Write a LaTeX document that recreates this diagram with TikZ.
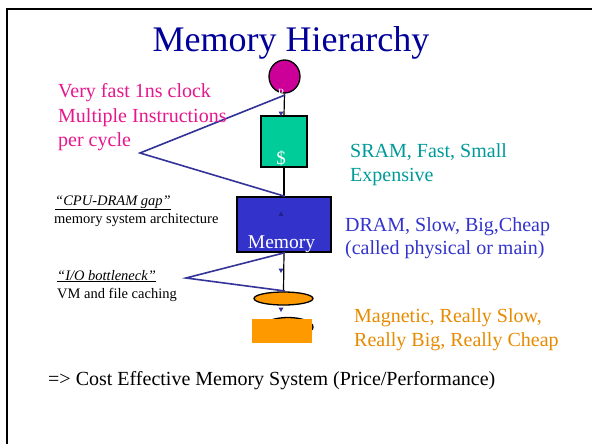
\documentclass[tikz,border=0pt]{standalone}
\usepackage{fontspec}
\setmainfont{Liberation Serif}
\usetikzlibrary{shapes.geometric}
\definecolor{titleblue}{HTML}{000099}
\definecolor{cpufill}{HTML}{CC0099}
\definecolor{sramfill}{HTML}{00CC99}
\definecolor{dramfill}{HTML}{3333CC}
\definecolor{diskfill}{HTML}{FF9900}
\definecolor{pinktxt}{HTML}{E6168C}
\definecolor{sramtxt}{HTML}{009999}
\definecolor{dramtxt}{HTML}{3333CC}
\definecolor{disktxt}{HTML}{E68A00}
\definecolor{linkblue}{HTML}{333399}
\definecolor{tipdark}{HTML}{222288}
\begin{document}
\begin{tikzpicture}[x=1pt,y=-1pt,
  lbl/.style={anchor=base west,inner sep=0pt},
  big/.style={font=\fontsize{20}{24}\selectfont},
  small/.style={font=\fontsize{14.5}{17}\selectfont},
  unit/.style={draw=black,line width=1.3pt,inner sep=0pt},
  wire/.style={draw=black,line width=1.2pt},
  callout/.style={draw=linkblue,line width=1.6pt,line join=miter},
  whitetxt/.style={text=white,inner sep=0pt}]
\useasboundingbox (0,0) rectangle (592,444);
% frame
\draw[line width=2pt] (7,444) -- (7,9) -- (592,9);
% title
\node[anchor=base,inner sep=0pt,font=\fontsize{36}{40}\selectfont,text=titleblue] (title) at (291,52) {Memory Hierarchy};
% hierarchy units
\node[unit,ellipse,fill=cpufill,minimum width=31pt,minimum height=33pt] (cpu) at (284.5,76.5) {};
\node[unit,rectangle,fill=sramfill,minimum width=46pt,minimum height=51pt] (sram) at (284,141.5) {};
\node[unit,rectangle,fill=dramfill,minimum width=94pt,minimum height=55pt] (dram) at (284,224.5) {};
\node[unit,ellipse,fill=diskfill,minimum width=59pt,minimum height=13pt] (disk) at (283.5,298.5) {};
\node[unit,ellipse,fill=diskfill,minimum width=50pt,minimum height=19pt] (disktwo) at (288,327) {};
\fill[diskfill] (252,319) rectangle (312,343);
% vertical wires
\draw[wire] (cpu.south) -- (sram.north);
\draw[wire] (sram.south) -- (dram.north);
\draw[wire] (dram.south) -- (disk.north);
% labels in units
\node[whitetxt,font=\fontsize{11}{12}\selectfont] (plbl) at (281,93) {P};
\node[whitetxt,font=\fontsize{19}{20}\selectfont] (slbl) at (281,158) {\$};
\node[whitetxt,anchor=base,font=\fontsize{19.5}{22}\selectfont] (mlbl) at (281.5,248) {Memory};
% small arrow tips
\fill[linkblue] (278.5,111.5) -- (283.5,111.5) -- (281,116) -- cycle;
\fill[tipdark] (278.5,216) -- (283.5,216) -- (281,211.5) -- cycle;
\fill[linkblue] (278.5,268.5) -- (283.5,268.5) -- (281,273) -- cycle;
\fill[linkblue] (278.5,307.5) -- (283.5,307.5) -- (281,312) -- cycle;
% callout triangles
\coordinate (apexone) at (140,153);
\coordinate (apextwo) at (186,278);
\coordinate (topone) at (285,95);
\coordinate (bottwo) at (285,291);
\draw[callout] (topone) -- (apexone) -- (dram.north -| topone);
\draw[callout] (dram.south -| topone) -- (apextwo) -- (bottwo);
% left texts
\node[lbl,big,text=pinktxt] (pa) at (58,98) {Very fast 1ns clock};
\node[lbl,big,text=pinktxt] (pb) at (58,122) {Multiple Instructions};
\node[lbl,big,text=pinktxt] (pc) at (58,146) {per cycle};
\node[lbl,small] (ga) at (55,205) {\underline{\textit{“CPU-DRAM gap”}}};
\node[lbl,small] (gb) at (54,223) {memory system architecture};
\node[lbl,small] (ia) at (57,280) {\underline{\textit{“I/O bottleneck”}}};
\node[lbl,small] (ib) at (57,298) {VM and file caching};
% right texts
\node[lbl,big,text=sramtxt] (sa) at (350,157) {SRAM, Fast, Small};
\node[lbl,big,text=sramtxt] (sb) at (350,181) {Expensive};
\node[lbl,big,text=dramtxt] (da) at (345,231) {DRAM, Slow, Big,Cheap};
\node[lbl,big,text=dramtxt] (db) at (345,254) {(called physical or main)};
\node[lbl,big,text=disktxt] (ma) at (354,322) {Magnetic, Really Slow,};
\node[lbl,big,text=disktxt] (mb) at (354,346) {Really Big, Really Cheap};
% bottom line
\node[lbl,big] (cost) at (48,385) {=> Cost Effective Memory System (Price/Performance)};
\end{tikzpicture}
\end{document}
